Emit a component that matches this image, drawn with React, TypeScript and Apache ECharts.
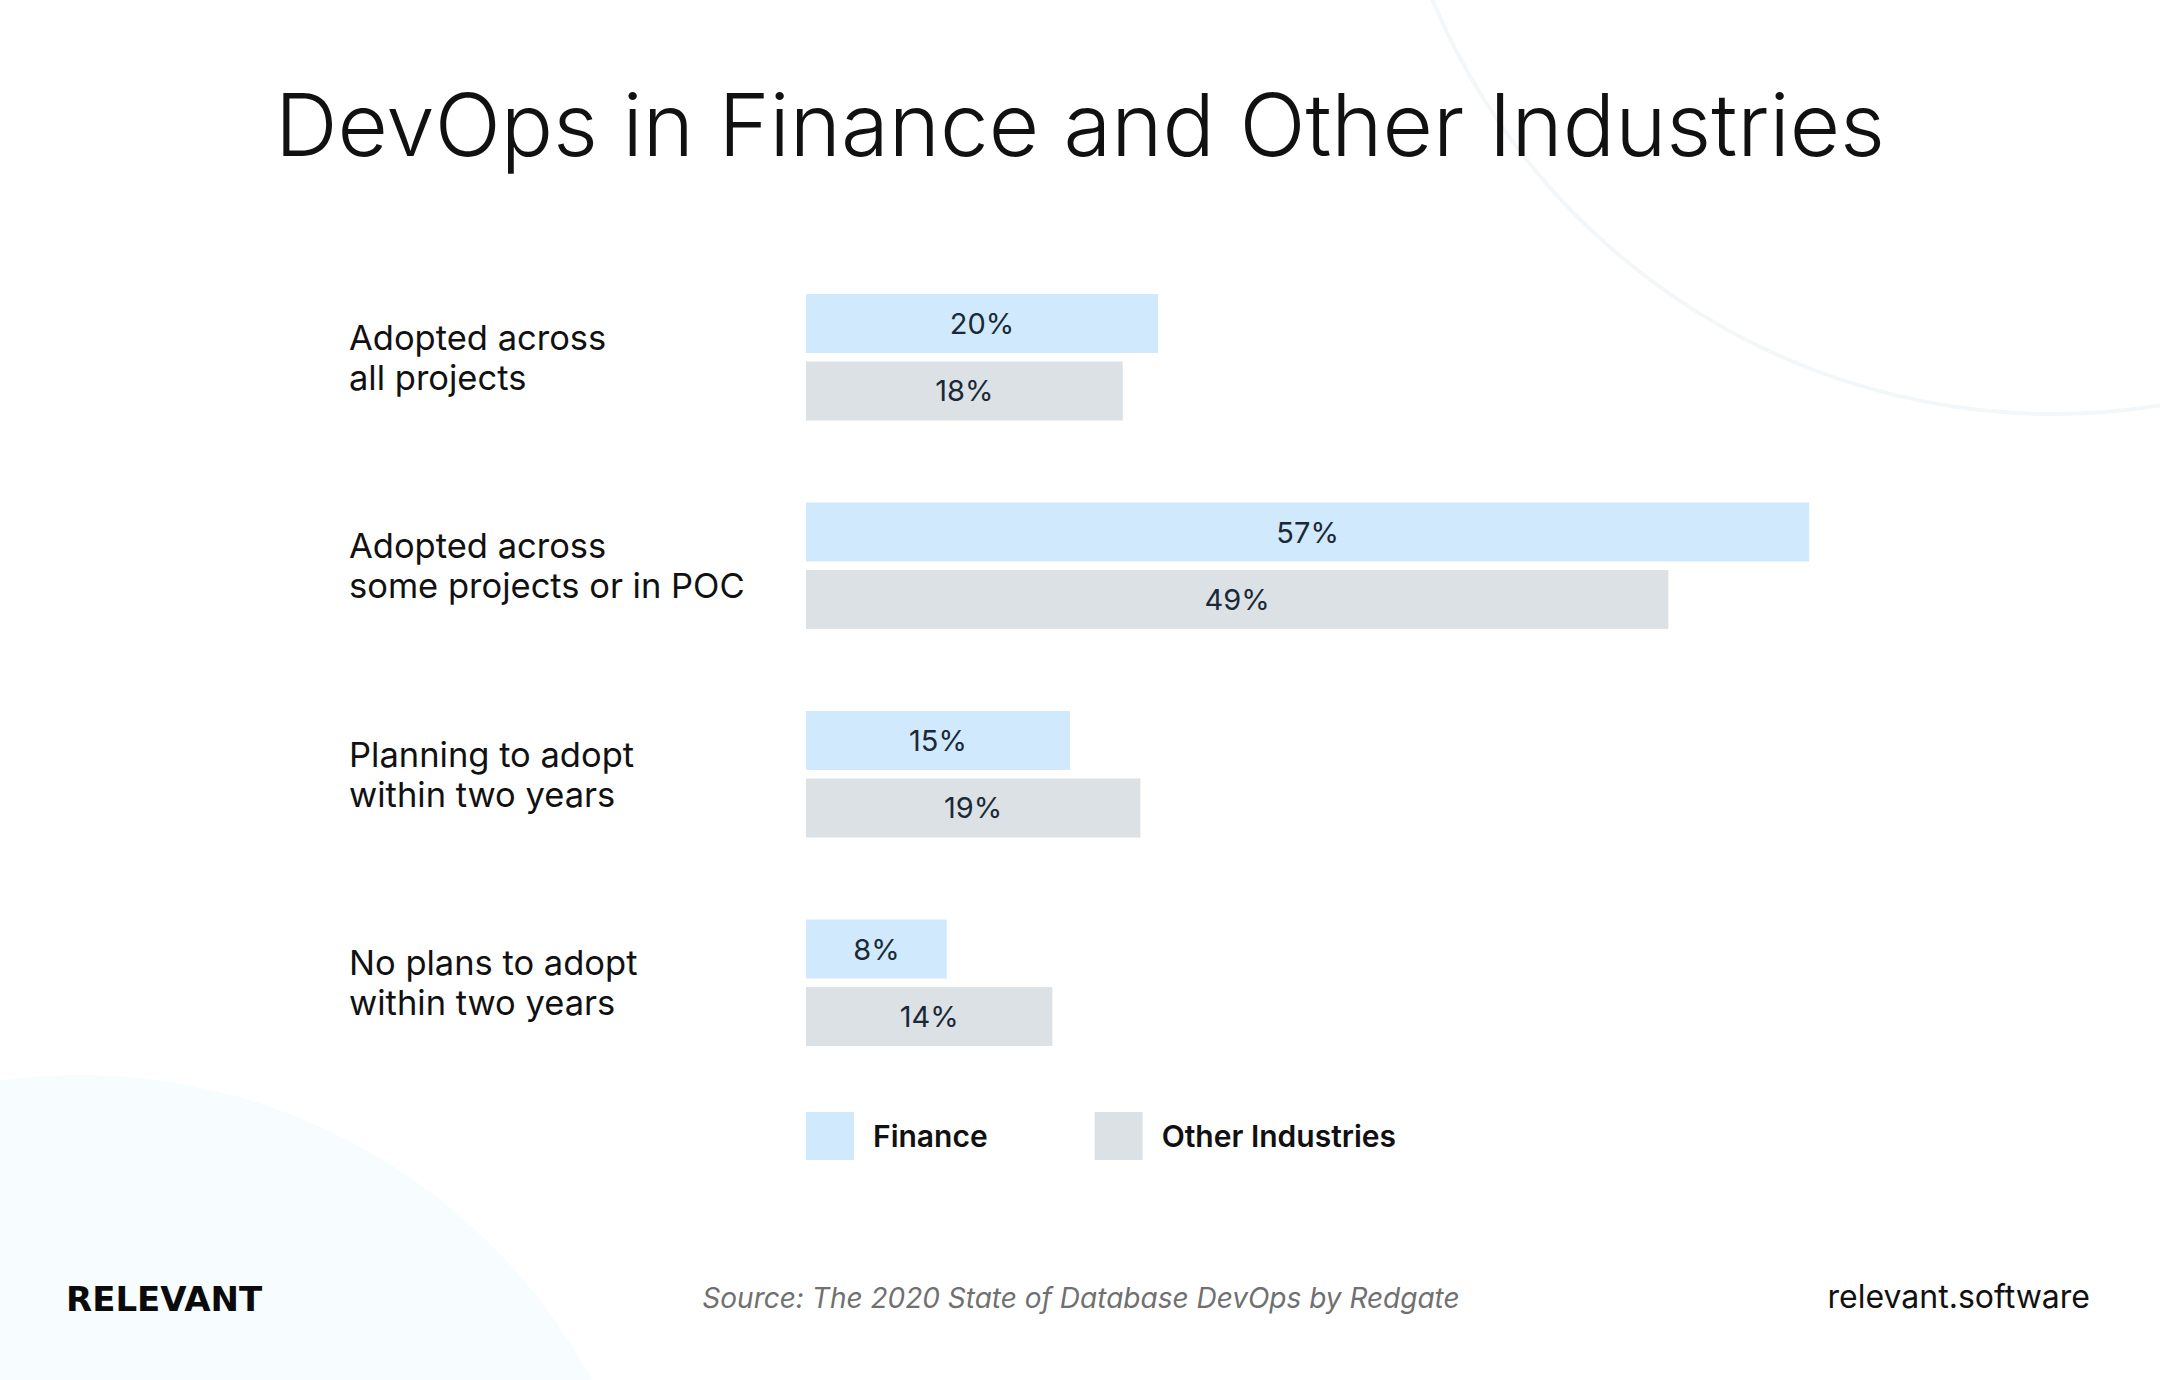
import React, { useEffect, useRef } from "react";
import * as echarts from "echarts";

// Share of respondents by DevOps adoption stage
const categories = [
  "Adopted across\nall projects",
  "Adopted across\nsome projects or in POC",
  "Planning to adopt\nwithin two years",
  "No plans to adopt\nwithin two years",
];
const financeValues = [20, 57, 15, 8];
const otherValues = [18, 49, 19, 14];
const seriesNames = ["Finance", "Other Industries"];

const titleText = "DevOps in Finance and Other Industries";
const sourceText = "Source: The 2020 State of Database DevOps by Redgate";
const brandText = "RELEVANT";
const siteText = "relevant.software";

const FONT = "Inter, 'Noto Sans', sans-serif";
const FINANCE_COLOR = "#d0e9fc";
const OTHER_COLOR = "#dce1e6";

export default function App() {
  const ref = useRef<HTMLDivElement>(null);

  useEffect(() => {
    if (!ref.current) return;
    const chart = echarts.init(ref.current, undefined, { renderer: "svg" });

    const valueLabel = {
      show: true,
      position: "inside",
      formatter: "{c}%",
      color: "#1b2936",
      fontFamily: FONT,
      fontSize: 29,
    };

    chart.setOption({
      animation: false,
      backgroundColor: "#ffffff",
      title: {
        text: titleText,
        left: "center",
        top: 67,
        textStyle: {
          fontFamily: FONT,
          fontWeight: 300,
          fontSize: 87,
          lineHeight: 104,
          color: "#111111",
        },
      },
      legend: {
        data: seriesNames,
        left: 806,
        top: 1112,
        padding: 0,
        icon: "rect",
        itemWidth: 48,
        itemHeight: 48,
        itemGap: 107,
        textStyle: {
          fontFamily: FONT,
          fontWeight: 600,
          fontSize: 30,
          color: "#111111",
          padding: [0, 0, 0, 14],
        },
      },
      graphic: [
        // faint decorative ring, upper right
        {
          type: "circle",
          z: -10,
          silent: true,
          shape: { cx: 2053, cy: -258, r: 672 },
          style: { fill: "none", stroke: "#f3f7fa", lineWidth: 4 },
        },
        // pale filled disc, lower left
        {
          type: "circle",
          z: -10,
          silent: true,
          shape: { cx: 80, cy: 1657, r: 582 },
          style: { fill: "#f7fcfe" },
        },
        {
          type: "text",
          x: 66,
          y: 1299,
          style: {
            text: brandText,
            fontFamily: "'DejaVu Sans', sans-serif",
            fontWeight: "bold",
            fontSize: 34,
            fill: "#0b0b0b",
            verticalAlign: "middle",
            align: "left",
          },
        },
        {
          type: "text",
          x: 1081,
          y: 1298,
          style: {
            text: sourceText,
            fontFamily: FONT,
            fontStyle: "italic",
            fontSize: 28,
            fill: "#707070",
            verticalAlign: "middle",
            align: "center",
          },
        },
        {
          type: "text",
          x: 2090,
          y: 1296,
          style: {
            text: siteText,
            fontFamily: FONT,
            fontSize: 32,
            fill: "#111111",
            verticalAlign: "middle",
            align: "right",
          },
        },
      ],
      grid: {
        left: 806,
        top: 253,
        width: 1056,
        height: 834,
        containLabel: false,
      },
      xAxis: {
        type: "value",
        min: 0,
        max: 60,
        show: false,
        splitLine: { show: false },
      },
      yAxis: {
        type: "category",
        data: categories,
        inverse: true,
        axisLine: { show: false },
        axisTick: { show: false },
        splitLine: { show: false },
        axisLabel: {
          align: "left",
          margin: 457,
          fontFamily: FONT,
          fontSize: 34.5,
          lineHeight: 40,
          color: "#111111",
        },
      },
      series: [
        {
          name: seriesNames[0],
          type: "bar",
          data: financeValues,
          barWidth: 59,
          barGap: "14%",
          itemStyle: { color: FINANCE_COLOR },
          label: valueLabel,
        },
        {
          name: seriesNames[1],
          type: "bar",
          data: otherValues,
          barWidth: 59,
          barGap: "14%",
          itemStyle: { color: OTHER_COLOR },
          label: valueLabel,
        },
      ],
    });

    return () => chart.dispose();
  }, []);

  return (
    <div
      ref={ref}
      style={{ position: "absolute", left: 0, top: 0, width: 2160, height: 1380 }}
    />
  );
}
